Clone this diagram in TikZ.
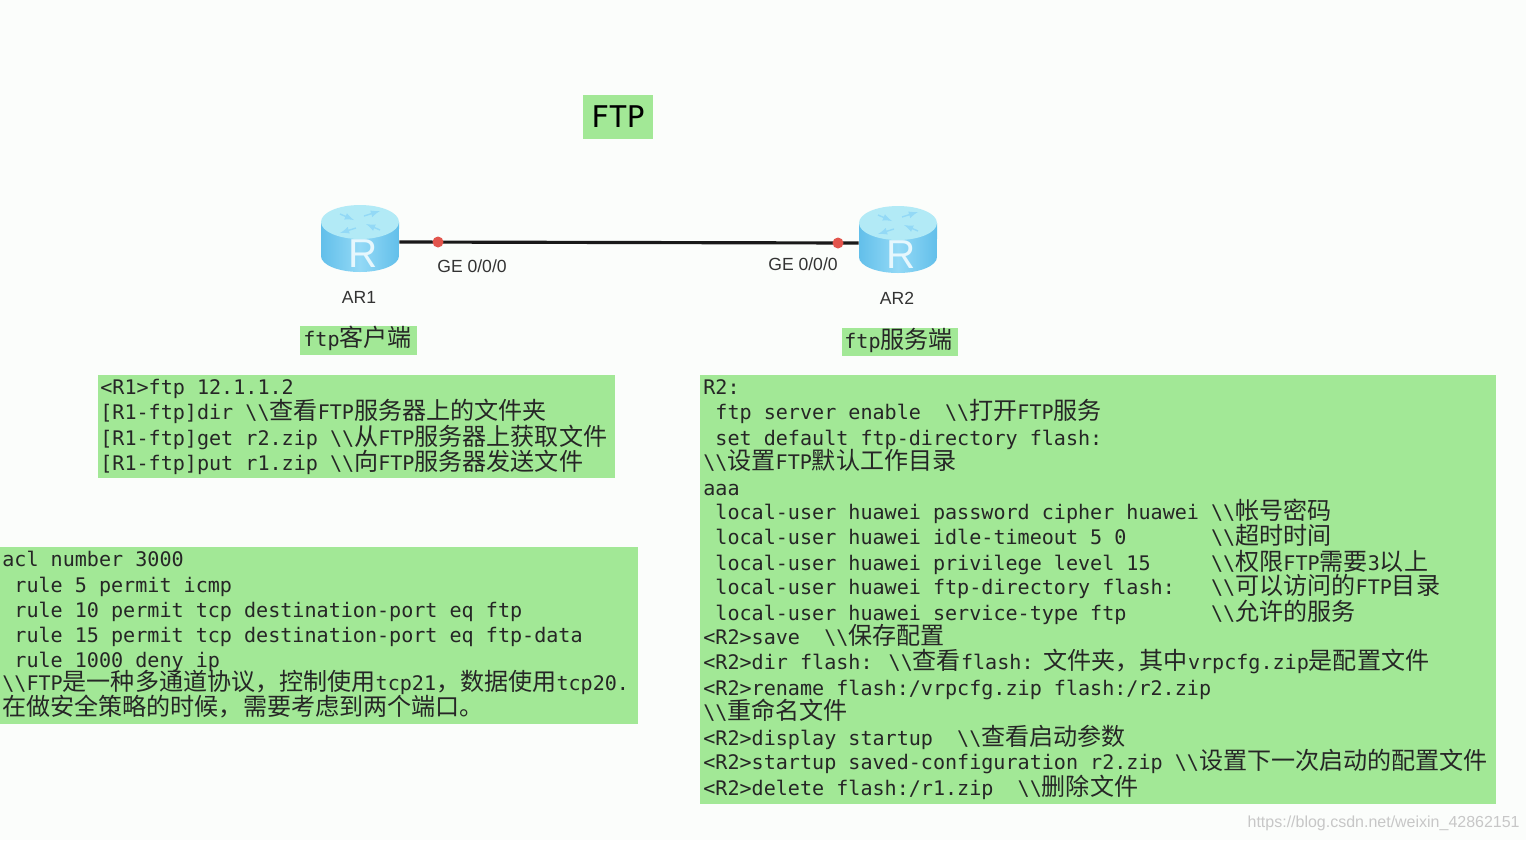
\documentclass[tikz,border=0pt]{standalone}
\usepackage{fontspec}
\setmainfont{Liberation Sans}
\newfontfamily\cjk{Noto Sans CJK SC}
\newfontfamily\monofam{DejaVu Sans Mono}
\definecolor{boxgreen}{HTML}{A2E896}
\definecolor{paper}{HTML}{FBFDFB}
\definecolor{portred}{HTML}{E2554D}
\definecolor{bodyside}{HTML}{62BFEA}
\definecolor{bodymid}{HTML}{93D9F6}
\definecolor{bodytop}{HTML}{B2EAF6}
\newcommand{\zh}[1]{{\cjk\fontsize{13.7}{15}\selectfont #1}}
\newcommand{\bsl}{\textbackslash\textbackslash}
\tikzset{
  cfgbox/.style={fill=boxgreen, draw=none, inner sep=0pt, anchor=north west},
  cfgline/.style={anchor=base west, inner sep=0pt, yshift=-0.02cm, font=\monofam\fontsize{11.43}{13}\selectfont, text=black!85},
  portlabel/.style={inner sep=0pt, font=\fontsize{10}{12}\selectfont, text=black!80},
  routerbox/.style={inner sep=0pt, minimum width=1.56cm, minimum height=1.2cm},
  portdot/.style={circle, fill=portred, inner sep=0pt, minimum size=0.22cm},
  router/.pic={
    \path[left color=bodyside, right color=bodyside, middle color=bodymid]
      (-39,-20) -- (-39,14) arc[start angle=180, end angle=360, x radius=0.78cm, y radius=0.32cm] -- (39,-20) -- cycle;
    \fill[bodytop] (0,-20) ellipse[x radius=0.78cm, y radius=0.34cm];
    \draw[bodymid, -latex, thick] (-20,-28) -- (-6,-22);
    \draw[bodymid, -latex, thick] (20,-12) -- (6,-18);
    \draw[bodymid, -latex, thick] (-4,-14) -- (-20,-9);
    \draw[bodymid, -latex, thick] (4,-26) -- (20,-31);
    \node[text=white!90!cyan, font=\fontsize{23}{25}\selectfont, inner sep=0pt] (-rlabel) at (3,12) {R};
  }
}
\begin{document}
\begin{tikzpicture}[x=0.02cm, y=-0.02cm]
   \useasboundingbox (0,0) rectangle (1526,840);
   \fill[paper] (0,0) rectangle (1526,840);

   % Title
   \node[fill=boxgreen, minimum width=1.4cm, minimum height=0.88cm, inner sep=0pt,
         font=\monofam\fontsize{17}{20}\selectfont] (title) at (618,117) {FTP};

   % Routers and link
   \node[routerbox] (AR1) at (360,242) {};
   \node[routerbox] (AR2) at (898,243) {};
   \pic (r1) at (AR1) {router};
   \pic (r2) at (AR2) {router};
   \draw[black!90, line width=1.8pt] (AR1.east) -- (AR2.west);
   \node[portdot] (P1) at (438,242) {};
   \node[portdot] (P2) at (838,243) {};
   \node[portlabel] (G1) at (472,266) {GE 0/0/0};
   \node[portlabel] (G2) at (803,264) {GE 0/0/0};
   \node[portlabel] (N1) at (359,297) {AR1};
   \node[portlabel] (N2) at (897,298) {AR2};

   % Role tags
   \node[cfgbox, minimum width=2.34cm, minimum height=0.58cm] (tag1) at (300,326) {};
   \node[cfgline] (tag1t) at (303,345) {ftp\zh{客户端}};
   \node[cfgbox, minimum width=2.32cm, minimum height=0.56cm] (tag2) at (842,328) {};
   \node[cfgline] (tag2t) at (844,347) {ftp\zh{服务端}};

   % Client commands
   \node[cfgbox, minimum width=10.34cm, minimum height=2.06cm] (box1) at (98,375) {};
   \node[cfgline] (C1) at (100,393) {<R1>ftp 12.1.1.2};
   \node[cfgline] (C2) at (100,418) {[R1-ftp]dir \bsl\zh{查看}FTP\zh{服务器上的文件夹}};
   \node[cfgline] (C3) at (100,444) {[R1-ftp]get r2.zip \bsl\zh{从}FTP\zh{服务器上获取文件}};
   \node[cfgline] (C4) at (100,469) {[R1-ftp]put r1.zip \bsl\zh{向}FTP\zh{服务器发送文件}};

   % ACL
   \node[cfgbox, minimum width=12.76cm, minimum height=3.54cm] (box2) at (0,547) {};
   \node[cfgline] (A1) at (2,565) {acl number 3000};
   \node[cfgline] (A2) at (2,591) {~rule 5 permit icmp};
   \node[cfgline] (A3) at (2,616) {~rule 10 permit tcp destination-port eq ftp};
   \node[cfgline] (A4) at (2,641) {~rule 15 permit tcp destination-port eq ftp-data};
   \node[cfgline] (A5) at (2,666) {~rule 1000 deny ip};
   \node[cfgline] (A6) at (2,689) {\bsl FTP\zh{是一种多通道协议，控制使用}tcp21\zh{，数据使用}tcp20.};
   \node[cfgline] (A7) at (2,714) {\zh{在做安全策略的时候，需要考虑到两个端口。}};

   % Server commands
   \node[cfgbox, minimum width=15.92cm, minimum height=8.58cm] (box3) at (700,375) {};
   \node[cfgline] (S1) at (703,393) {R2:};
   \node[cfgline] (S2) at (703,418) {~ftp server enable~~\bsl\zh{打开}FTP\zh{服务}};
   \node[cfgline] (S3) at (703,444) {~set default ftp-directory flash:};
   \node[cfgline] (S4) at (703,468) {\bsl\zh{设置}FTP\zh{默认工作目录}};
   \node[cfgline] (S5) at (703,494) {aaa};
   \node[cfgline] (S6) at (703,518) {~local-user huawei password cipher huawei \bsl\zh{帐号密码}};
   \node[cfgline] (S7) at (703,543) {~local-user huawei idle-timeout 5 0~~~~~~~\bsl\zh{超时时间}};
   \node[cfgline] (S8) at (703,569) {~local-user huawei privilege level 15~~~~~\bsl\zh{权限}FTP\zh{需要}3\zh{以上}};
   \node[cfgline] (S9) at (703,593) {~local-user huawei ftp-directory flash:~~~\bsl\zh{可以访问的}FTP\zh{目录}};
   \node[cfgline] (S10) at (703,619) {~local-user huawei service-type ftp~~~~~~~\bsl\zh{允许的服务}};
   \node[cfgline] (S11) at (703,643) {<R2>save~~\bsl\zh{保存配置}};
   \node[cfgline] (S12) at (703,668) {<R2>dir flash: \bsl\zh{查看}flash:\hspace{0.2cm}\zh{文件夹，其中}vrpcfg.zip\zh{是配置文件}};
   \node[cfgline] (S13) at (703,694) {<R2>rename flash:/vrpcfg.zip flash:/r2.zip};
   \node[cfgline] (S14) at (703,718) {\bsl\zh{重命名文件}};
   \node[cfgline] (S15) at (703,744) {<R2>display startup~~\bsl\zh{查看启动参数}};
   \node[cfgline] (S16) at (703,768) {<R2>startup saved-configuration r2.zip \bsl\zh{设置下一次启动的配置文件}};
   \node[cfgline] (S17) at (703,794) {<R2>delete flash:/r1.zip~~\bsl\zh{删除文件}};

   % Watermark
   \node[anchor=east, inner sep=0pt, text=black!22, font=\fontsize{9.1}{11}\selectfont] (mark) at (1520,823) {https://blog.csdn.net/weixin\_42862151};
\end{tikzpicture}
\end{document}
